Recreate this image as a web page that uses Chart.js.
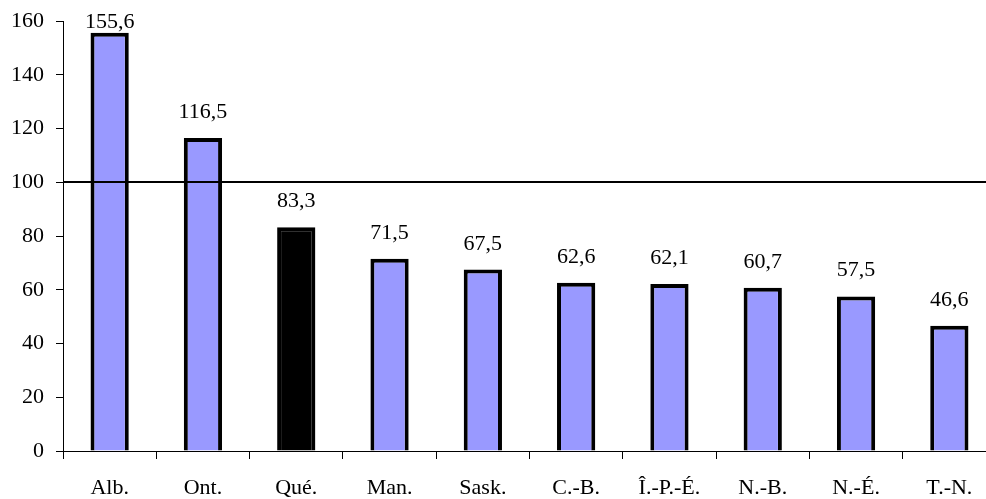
<!DOCTYPE html>
<html>
<head>
<meta charset="utf-8">
<script src="https://cdn.jsdelivr.net/npm/chart.js@4/dist/chart.umd.min.js"></script>
<style>
body { margin: 0; background: #fff; overflow: hidden; }
#wrap { width: 996px; height: 499px; }
</style>
</head>
<body>
<div id="wrap"><canvas id="chart"></canvas></div>
<script>
// Data
const provinces = ['Alb.', 'Ont.', 'Qué.', 'Man.', 'Sask.', 'C.-B.', 'Î.-P.-É.', 'N.-B.', 'N.-É.', 'T.-N.'];
const values = [155.6, 116.5, 83.3, 71.5, 67.5, 62.6, 62.1, 60.7, 57.5, 46.6];
const yTicks = [0, 20, 40, 60, 80, 100, 120, 140, 160];
const refLine = 100;

const barColors = provinces.map(p => p === 'Qué.' ? '#000000' : '#9999ff');
const serif = "'Liberation Serif', 'Times New Roman', serif";

// value labels + reference line at 100
const extras = {
id: 'extras',
afterDatasetsDraw(chart) {
const ctx = chart.ctx;
const y = chart.scales.y;
const area = chart.chartArea;
const ly = Math.round(y.getPixelForValue(refLine));
ctx.save();
ctx.strokeStyle = '#000';
ctx.lineWidth = 2;
ctx.beginPath();
ctx.moveTo(area.left, ly);
ctx.lineTo(area.right, ly);
ctx.stroke();

ctx.fillStyle = '#000';
ctx.font = '22px ' + serif;
ctx.textAlign = 'center';
ctx.textBaseline = 'alphabetic';
chart.getDatasetMeta(0).data.forEach((bar, i) => {
// keep the tallest label inside the picture
const by = Math.max(bar.y - 20, 28);
ctx.fillText(values[i].toFixed(1).replace('.', ','), bar.x, by);
});
ctx.restore();
}
};

new Chart(document.getElementById('chart'), {
type: 'bar',
data: {
labels: provinces,
datasets: [{
data: values,
backgroundColor: barColors,
borderColor: '#000',
borderWidth: 4,
borderSkipped: 'bottom',
categoryPercentage: 1,
barPercentage: 0.41
}]
},
options: {
responsive: true,
maintainAspectRatio: false,
animation: false,
devicePixelRatio: 1,
layout: { padding: { top: 21, right: 0, left: 0, bottom: 0 } },
plugins: {
legend: { display: false },
tooltip: { enabled: false }
},
scales: {
x: {
grid: { display: true, drawOnChartArea: false, color: '#000', tickLength: 8, offset: true },
border: { color: '#000', width: 1 },
ticks: { color: '#000', font: { family: serif, size: 22 }, padding: 16, maxRotation: 0 },
afterFit(scale) {
scale.height = 48;
scale.paddingLeft = 0;
scale.paddingRight = 0;
}
},
y: {
min: 0,
max: 160,
afterBuildTicks(scale) { scale.ticks = yTicks.map(v => ({ value: v })); },
grid: { display: true, drawOnChartArea: false, color: '#000', tickLength: 7 },
border: { color: '#000', width: 1 },
ticks: { color: '#000', font: { family: serif, size: 22 }, padding: 12 },
afterFit(scale) {
scale.width = 63;
scale.paddingTop = 0;
scale.paddingBottom = 0;
}
}
}
},
plugins: [extras]
});
</script>
</body>
</html>
